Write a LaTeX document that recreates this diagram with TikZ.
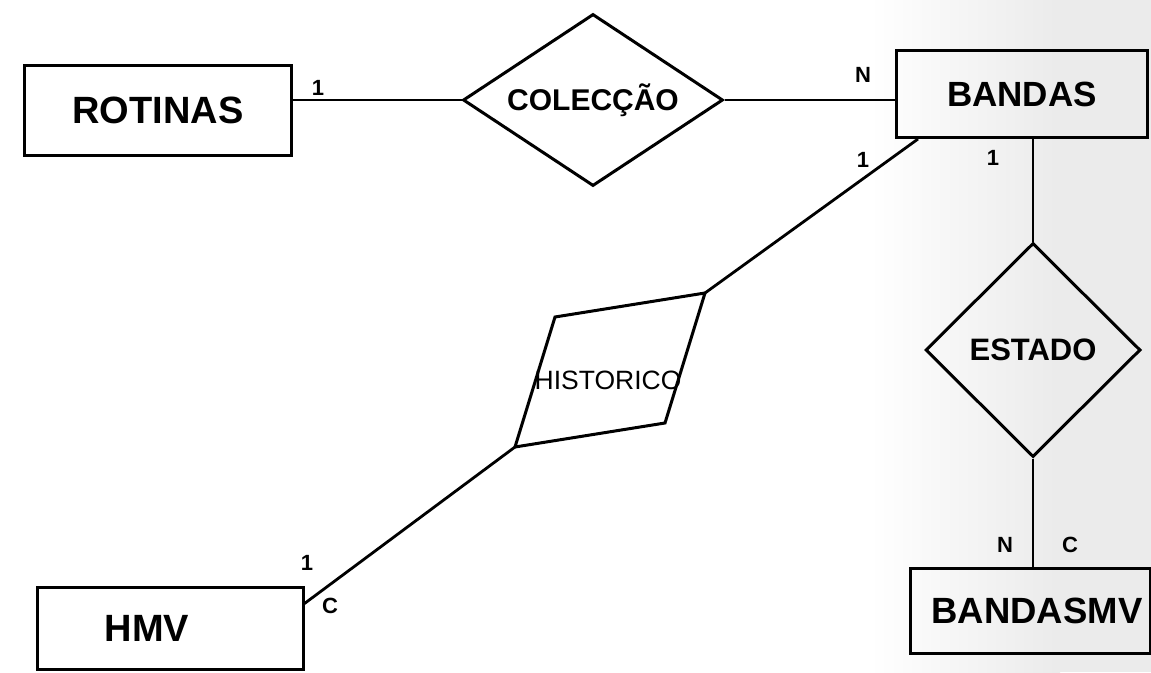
\documentclass[tikz,border=0pt]{standalone}
\usepackage{fontspec}
\setmainfont{Liberation Sans}
\usetikzlibrary{shapes.geometric,calc}
\begin{document}
\begin{tikzpicture}[x=1pt,y=-1pt,
  conn/.style={line width=2.8pt},
  entity/.style={draw,rectangle,line width=3pt,inner sep=0pt,
    font=\fontsize{38}{44}\selectfont\bfseries},
  relation/.style={draw,diamond,aspect=1.5,line width=3pt,inner sep=0pt,
    font=\fontsize{30}{34}\selectfont\bfseries},
  card/.style={inner sep=0pt,font=\fontsize{22}{26}\selectfont\bfseries}]
\useasboundingbox (0,0) rectangle (1151,672);
% screen tone on the right
\shade[left color=white,right color=black!8] (870,0) rectangle (1060,672);
\fill[black!8] (1060,0) rectangle (1151,672);

% entities
\node[entity,minimum width=267pt,minimum height=90pt] (rot) at (158,110) {ROTINAS};
\node[entity,minimum width=251pt,minimum height=87pt,
  font=\fontsize{35}{40}\selectfont\bfseries] (ban) at (1022,94) {BANDAS};
\node[entity,minimum width=240pt,minimum height=85pt,
  font=\fontsize{36.5}{42}\selectfont\bfseries] (bmv) at (1030,611) {\hspace*{14pt}BANDASMV};
\node[entity,minimum width=266pt,minimum height=82pt] (hmv) at (170,628) {\hspace*{-46pt}HMV};

% relationships
\node[relation,minimum width=260pt,minimum height=172pt] (col) at (593,100) {COLECÇÃO};
\node[relation,aspect=1,minimum width=215pt,minimum height=214pt,
  font=\fontsize{31}{35}\selectfont\bfseries] (est) at (1033,350) {ESTADO};
\coordinate (h1) at (555,317);
\coordinate (h2) at (705,293);
\coordinate (h3) at (665,423);
\coordinate (h4) at (515,447);
\draw[line width=3pt,line join=miter] (h1) -- (h2) -- (h3) -- (h4) -- cycle;
\node[inner sep=0pt,font=\fontsize{26.5}{30}\selectfont] (his) at (608,380) {HISTORICO};

% connectors
\draw[conn] (col.west -| rot.east) -- (col.west);
\draw[conn] (col.east) -- (col.east -| ban.west);
\draw[conn] ($(ban.south west)+(23,0)$) -- (h2);
\draw[conn] (h4) -- ($(hmv.north east)+(0,18)$);
\draw[conn] (est.north |- ban.south) -- (est.north);
\draw[conn] (est.south) -- (est.south |- bmv.north);

% cardinalities
\node[card] (k1) at (318,88) {1};
\node[card] (k2) at (863,75) {N};
\node[card] (k3) at (863,160) {1};
\node[card] (k4) at (993,158) {1};
\node[card] (k5) at (1005,545) {N};
\node[card] (k6) at (1070,545) {C};
\node[card] (k7) at (307,563) {1};
\node[card] (k8) at (330,606) {C};
\end{tikzpicture}
\end{document}
